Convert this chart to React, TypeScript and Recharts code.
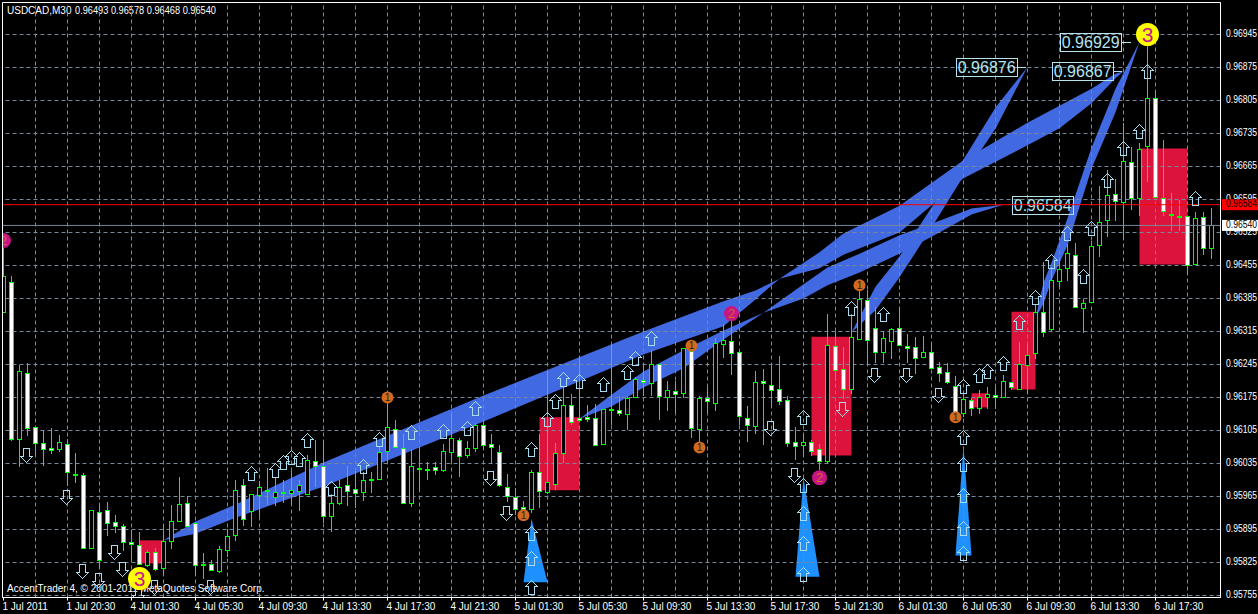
import {
  Area,
  Bar,
  ComposedChart,
  ReferenceArea,
  ReferenceLine,
  Scatter,
  XAxis,
  YAxis,
} from "recharts";

// all prices below are in points (1/100000)
const opens = [
  96356, 96420, 96087, 96227, 96112, 96079, 96067, 96065, 96076, 96012,
  96010, 95855, 95932, 95937, 95911, 95902, 95868, 95862, 95819, 95847,
  95813, 95870, 95914, 95951, 95909, 95822, 95822, 95806, 95851, 95884,
  95989, 95934, 95968, 95979, 95964, 95975, 95972, 95976, 95970, 96041,
  96029, 95924, 95951, 95989, 95981, 95974, 96002, 96002, 96061, 96108,
  96068, 95951, 96026, 96024, 96027, 96021, 96059, 96085, 96053, 96068,
  96116, 96077, 96060, 95985, 95964, 95942, 95939, 96017, 95974, 95992,
  96058, 96159, 96131, 96133, 96132, 96077, 96151, 96149, 96140, 96176,
  96212, 96206, 96246, 96176, 96188, 96185, 96273, 96108, 96174, 96164,
  96289, 96294, 96272, 96132, 96115, 96210, 96202, 96193, 96170, 96081,
  96075, 96081, 96065, 96041, 96284, 96236, 96193, 96299, 96382, 96322,
  96271, 96295, 96323, 96284, 96282, 96261, 96272, 96240, 96229, 96200,
  96142, 96170, 96152, 96176, 96181, 96176, 96208, 96192, 96244, 96270,
  96356, 96320, 96422, 96450, 96478, 96365, 96377, 96499, 96551, 96607,
  96589, 96675, 96598, 96708, 96810, 96599, 96565, 96560, 96560, 96459,
  96557, 96493,
];
const closes = [
  96432, 96087, 96232, 96111, 96079, 96066, 96064, 96081, 96017, 96011,
  95856, 95937, 95831, 95909, 95903, 95869, 95865, 95822, 95847, 95812,
  95870, 95913, 95949, 95903, 95820, 95820, 95809, 95854, 95882, 95979,
  95918, 95971, 95985, 95977, 95975, 95973, 95978, 95989, 96043, 96030,
  95923, 95951, 95985, 95977, 95973, 96000, 96001, 96059, 96112, 96070,
  95952, 96030, 96024, 96022, 96022, 96062, 96089, 96051, 96068, 96116,
  96074, 96070, 95989, 95966, 95939, 95938, 96017, 95977, 95995, 96058,
  96159, 96123, 96128, 96129, 96075, 96151, 96149, 96142, 96174, 96215,
  96208, 96246, 96178, 96191, 96183, 96280, 96111, 96175, 96168, 96291,
  96297, 96270, 96136, 96117, 96208, 96206, 96191, 96167, 96079, 96072,
  96081, 96062, 96041, 96287, 96234, 96193, 96303, 96384, 96296, 96272,
  96302, 96321, 96287, 96280, 96259, 96272, 96238, 96227, 96208, 96143,
  96172, 96152, 96176, 96183, 96176, 96210, 96198, 96246, 96265, 96356,
  96315, 96425, 96448, 96482, 96368, 96376, 96496, 96548, 96605, 96592,
  96677, 96598, 96702, 96810, 96600, 96570, 96562, 96557, 96456, 96556,
  96492, 96540,
];
const highs = [
  96508, 96432, 96244, 96248, 96113, 96106, 96111, 96096, 96087, 96058,
  96014, 95937, 95944, 95954, 95925, 95906, 95893, 95890, 95852, 95855,
  95907, 95946, 96007, 95966, 95910, 95845, 95831, 95861, 95896, 96001,
  96002, 95971, 95998, 96025, 96006, 95999, 96020, 95999, 96054, 96085,
  96084, 95971, 95999, 96029, 96020, 96017, 96018, 96073, 96183, 96128,
  96098, 96066, 96071, 96039, 96039, 96077, 96140, 96089, 96082, 96121,
  96123, 96098, 96075, 96013, 95983, 95956, 96022, 96097, 96232, 96079,
  96197, 96183, 96264, 96160, 96162, 96151, 96289, 96179, 96179, 96218,
  96246, 96275, 96246, 96211, 96211, 96280, 96285, 96178, 96197, 96302,
  96331, 96338, 96273, 96156, 96232, 96236, 96241, 96264, 96179, 96113,
  96098, 96085, 96077, 96352, 96313, 96283, 96352, 96413, 96402, 96367,
  96317, 96323, 96368, 96309, 96303, 96306, 96291, 96250, 96249, 96220,
  96186, 96174, 96191, 96197, 96198, 96222, 96208, 96292, 96289, 96374,
  96462, 96451, 96469, 96500, 96503, 96384, 96508, 96623, 96657, 96639,
  96757, 96707, 96715, 96922, 96826, 96722, 96608, 96593, 96560, 96568,
  96568, 96578,
];
const lows = [
  96356, 96082, 96027, 96093, 96050, 96029, 96055, 96059, 95988, 95993,
  95853, 95853, 95811, 95881, 95887, 95850, 95831, 95819, 95815, 95807,
  95799, 95854, 95913, 95902, 95797, 95790, 95808, 95802, 95836, 95870,
  95903, 95901, 95921, 95946, 95944, 95951, 95949, 95935, 95969, 95985,
  95908, 95889, 95946, 95944, 95940, 95955, 95972, 95999, 96041, 96068,
  95949, 95942, 95978, 95999, 96010, 96017, 96040, 96007, 96046, 96059,
  96066, 96034, 95985, 95953, 95925, 95921, 95930, 95940, 95971, 95978,
  96036, 96116, 96123, 96123, 96072, 96075, 96116, 96135, 96107, 96174,
  96179, 96179, 96128, 96147, 96142, 96174, 96089, 96077, 96142, 96147,
  96258, 96222, 96116, 96080, 96097, 96075, 96154, 96160, 96070, 96043,
  96052, 96050, 96022, 96034, 96211, 96172, 96183, 96296, 96243, 96249,
  96249, 96257, 96284, 96249, 96224, 96258, 96236, 96208, 96203, 96126,
  96133, 96135, 96139, 96151, 96151, 96174, 96191, 96190, 96183, 96256,
  96303, 96317, 96409, 96423, 96365, 96312, 96375, 96474, 96515, 96549,
  96510, 96572, 96561, 96632, 96600, 96561, 96529, 96529, 96434, 96459,
  96478, 96468,
];

const timeLabels = [
  "1 Jul 2011", "1 Jul 20:30", "4 Jul 01:30", "4 Jul 05:30", "4 Jul 09:30",
  "4 Jul 13:30", "4 Jul 17:30", "4 Jul 21:30", "5 Jul 01:30", "5 Jul 05:30",
  "5 Jul 09:30", "5 Jul 13:30", "5 Jul 17:30", "5 Jul 21:30", "6 Jul 01:30",
  "6 Jul 05:30", "6 Jul 09:30", "6 Jul 13:30", "6 Jul 17:30",
];
const priceLabels = [
  96945, 96875, 96805, 96735, 96665, 96595, 96525, 96455, 96385,
  96315, 96245, 96175, 96105, 96035, 95965, 95895, 95825, 95755,
];
const ASK = 96584;
const BID = 96540;

// [bar, lower edge, upper edge]
const bandLong = [
  [20, 95872, 95872], [24, 95886, 95912], [29, 95920, 95948], [40, 95986, 96037],
  [60, 96124, 96179], [80, 96266, 96315], [90, 96326, 96379], [94, 96383, 96402],
  [97, 96427, 96427],
];
const bandSecond = [
  [72, 96130, 96130], [76, 96156, 96181], [80, 96196, 96230], [85, 96237, 96275],
  [90, 96298, 96317], [95, 96355, 96355],
];
const bandToTop = [
  [97, 96427, 96427], [102, 96449, 96483], [105, 96478, 96523], [112, 96525, 96582],
  [120, 96640, 96678], [128, 96710, 96758], [132, 96746, 96794], [136, 96799, 96830],
  [139, 96852, 96862], [140, 96867, 96867],
];
const bandToLine = [
  [95, 96355, 96355], [100, 96385, 96415], [103, 96413, 96451], [107, 96440, 96480],
  [112, 96480, 96519], [117, 96525, 96550], [121, 96563, 96576], [125, 96584, 96584],
];
const bandSteep = [
  [106, 96313, 96313], [109, 96360, 96410], [112, 96430, 96474], [116, 96535, 96578],
  [120, 96645, 96680], [124, 96745, 96790], [128, 96876, 96876],
];
const bandLast = [
  [129, 96343, 96343], [130, 96374, 96419], [131, 96423, 96461], [133, 96498, 96555],
  [136, 96660, 96705], [139, 96780, 96830], [142, 96929, 96929],
];
const spikeOne = [[65, 95783, 95783], [66, 95783, 95918], [68, 95783, 95783]];
const spikeTwo = [[99, 95795, 95795], [100, 95795, 96005], [102, 95795, 95795]];
const spikeThree = [[119, 95840, 95840], [120, 95840, 96073], [121, 95840, 95840]];

// [from bar, to bar, low, high]
const boxes = [
  [17, 20, 95823, 95872],
  [67, 72, 95978, 96133],
  [101, 106, 96052, 96304],
  [121, 123, 96154, 96184],
  [126, 129, 96192, 96357],
  [142, 148, 96457, 96703],
];

// [bar, price]
const upArrows = [
  [31, 96014], [34, 96022], [35, 96039], [36, 96048], [37, 96044], [38, 96084],
  [41, 95982], [45, 96029], [47, 96088], [51, 96101], [55, 96103], [58, 96111],
  [59, 96152], [66, 96065], [68, 96130], [69, 96167], [70, 96215], [72, 96209],
  [75, 96203], [78, 96230], [79, 96258], [81, 96302], [106, 96364], [110, 96353],
  [100, 96133], [100, 95990], [100, 95929], [100, 95867], [100, 95800],
  [66, 95887], [66, 95834], [66, 95774],
  [120, 96092], [120, 96033], [120, 95969], [120, 95899], [120, 95846],
  [120, 96200], [122, 96222], [123, 96232], [125, 96249], [127, 96336],
  [129, 96389], [131, 96464], [133, 96525], [135, 96432], [136, 96534],
  [138, 96637], [140, 96705], [142, 96741], [143, 96867], [149, 96599],
];
const downArrows = [
  [3, 96054], [8, 95965], [10, 95806], [12, 95787], [14, 95848], [15, 95812],
  [17, 95759], [19, 95772], [26, 95772], [61, 96005], [63, 95929], [96, 96111],
  [99, 96010], [105, 96150], [109, 96222], [113, 96222], [117, 96181],
];

// [bar, price, wave number]
const waveMarks = [
  [48, 96175, 1], [65, 95925, 1], [86, 96285, 1], [87, 96069, 1], [107, 96413, 1], [119, 96133, 1],
  [0, 96508, 2], [91, 96353, 2], [102, 96005, 2],
  [17, 95791, 3], [143, 96945, 3],
];

const priceTags = [
  { bar: 122.9, points: 96876, text: "0.96876", lead: 9 },
  { bar: 134.9, points: 96867, text: "0.96867", lead: 9 },
  { bar: 135.9, points: 96929, text: "0.96929", lead: 10 },
  { bar: 129.9, points: 96584, text: "0.96584", lead: 0 },
];

const FONT = "'Liberation Sans', Arial, sans-serif";
const GRID = "#778899";
const GREEN = "#00ff00";
const ARROW = "#a8dcee";
const BAND = "#4169e1";
const SPIKE = "#1e90ff";
const CRIMSON = "#dc143c";

const price = (p: number) => p / 100000;

const bandSets: [string, number[][], string][] = [
  ["bandLong", bandLong, BAND],
  ["bandSecond", bandSecond, BAND],
  ["bandToTop", bandToTop, BAND],
  ["bandToLine", bandToLine, BAND],
  ["bandSteep", bandSteep, BAND],
  ["bandLast", bandLast, BAND],
  ["spikeOne", spikeOne, SPIKE],
  ["spikeTwo", spikeTwo, SPIKE],
  ["spikeThree", spikeThree, SPIKE],
];

const rows = opens.map((o, i) => {
  const row: any = {
    bar: i,
    open: price(o),
    close: price(closes[i]),
    high: price(highs[i]),
    low: price(lows[i]),
    range: [price(lows[i]), price(highs[i])],
  };
  bandSets.forEach(([key, points]) => {
    const hit = points.find((p) => p[0] === i);
    if (hit) row[key] = [price(hit[1]), price(hit[2])];
  });
  return row;
});

const Candle = (props: any) => {
  const { x, width, y, height, payload } = props;
  const cx = x + width / 2;
  const k = height / (payload.high - payload.low || 1);
  const up = payload.close > payload.open;
  const top = Math.round(y + (payload.high - Math.max(payload.open, payload.close)) * k) + 0.5;
  const bottom = Math.round(y + (payload.high - Math.min(payload.open, payload.close)) * k) + 0.5;
  return (
    <g shapeRendering="crispEdges">
      <line x1={cx} x2={cx} y1={y} y2={y + height} stroke={GREEN} />
      <rect x={cx - 2} y={top} width={4} height={bottom - top} fill={up ? "#000" : "#fff"} stroke={GREEN} />
    </g>
  );
};

const UpArrow = ({ cx, cy }: any) => (
  <path
    transform={`translate(${cx},${Math.round(cy) + 0.5})`}
    d="M0,-7 L6,-1 L3,-1 L3,7 L-3,7 L-3,-1 L-6,-1 Z"
    fill="none"
    stroke={ARROW}
    shapeRendering="crispEdges"
  />
);

const DownArrow = ({ cx, cy }: any) => (
  <path
    transform={`translate(${cx - 1},${Math.round(cy) + 0.5})`}
    d="M0,7 L6,1 L3,1 L3,-7 L-3,-7 L-3,1 L-6,1 Z"
    fill="none"
    stroke={ARROW}
    shapeRendering="crispEdges"
  />
);

const WaveMark = ({ cx, cy, payload }: any) => {
  const wave = payload.wave;
  const r = wave === 3 ? 11.5 : wave === 2 ? 7.5 : 6;
  const fill = wave === 3 ? "#ffff00" : wave === 2 ? "#c71585" : "#d2691e";
  const ink = wave === 3 ? "#c71585" : wave === 2 ? "#d2691e" : "#222";
  return (
    <g clipPath="url(#plotClip)">
      <circle cx={cx} cy={cy} r={r} fill={fill} />
      <text
        x={cx}
        y={cy}
        dy="0.36em"
        textAnchor="middle"
        fontFamily={FONT}
        fontSize={wave === 3 ? 21 : wave === 2 ? 13 : 10}
        fill={ink}
      >
        {wave}
      </text>
    </g>
  );
};

const PriceTag = ({ cx, cy, payload }: any) => (
  <g>
    <rect x={cx - 30.5} y={Math.round(cy) - 8.5} width={61} height={18} fill="none" stroke="#b5e3ee" shapeRendering="crispEdges" />
    {payload.lead > 0 && (
      <line x1={cx + 30.5} x2={cx + 30.5 + payload.lead} y1={Math.round(cy) + 0.5} y2={Math.round(cy) + 0.5} stroke="#b5e3ee" shapeRendering="crispEdges" />
    )}
    <text x={cx} y={cy} dy="0.38em" textAnchor="middle" fontFamily={FONT} fontSize={16} fill="#b5e3ee">
      {payload.text}
    </text>
  </g>
);

const PriceTick = ({ y, payload }: any) => {
  const left = 1222;
  const points = Math.round(payload.value * 100000);
  const tagged = points === ASK || points === BID;
  return (
    <g>
      {tagged && (
        <rect x={left} y={y - 5.5} width={36} height={11} fill={points === ASK ? "#ff0000" : "#ffffff"} />
      )}
      <text
        x={left + 4}
        y={y - 1}
        dy="0.36em"
        fontFamily={FONT}
        fontSize={10.5}
        textLength={31}
        lengthAdjust="spacingAndGlyphs"
        fill={tagged ? "#000" : "#fff"}
      >
        {payload.value.toFixed(5)}
      </text>
    </g>
  );
};

const TimeTick = ({ x, y, payload }: any) => (
  <text x={x - 1} y={y + 4} dy="0.36em" fontFamily={FONT} fontSize={10} fill="#fff">
    {timeLabels[payload.value / 8]}
  </text>
);

const timeTicks = timeLabels.map((_, i) => i * 8);
const gridBars = Array.from({ length: 37 }, (_, i) => (i + 1) * 4);
const arrowUpData = upArrows.map(([bar, p]) => ({ bar, y: price(p) }));
const arrowDownData = downArrows.map(([bar, p]) => ({ bar, y: price(p) }));
const waveData = waveMarks.map(([bar, p, wave]) => ({ bar, y: price(p), wave }));
const tagData = priceTags.map((t) => ({ ...t, y: price(t.points) }));

export default function App() {
  return (
    <div style={{ position: "absolute", left: 0, top: 0, width: 1258, height: 614, background: "#000", overflow: "hidden" }}>
      <ComposedChart
        width={1258}
        height={614}
        data={rows}
        margin={{ top: 2.5, right: 0, bottom: 0, left: 2.5 }}
      >
        <defs>
          <clipPath id="plotClip">
            <rect x={3} y={3} width={1217} height={594} />
          </clipPath>
        </defs>
        <XAxis
          dataKey="bar"
          type="number"
          domain={[-0.125, 152.125]}
          allowDataOverflow
          ticks={timeTicks}
          interval={0}
          height={16.5}
          stroke="#fff"
          tickSize={3}
          tick={<TimeTick />}
        />
        <YAxis
          orientation="right"
          type="number"
          domain={[0.9575076, 0.9701288]}
          allowDataOverflow
          ticks={[...priceLabels, ASK, BID].map(price)}
          interval={0}
          width={37.5}
          stroke="#fff"
          tickLine={false}
          tick={<PriceTick />}
        />
        {boxes.map(([a, b, lo, hi]) => (
          <ReferenceArea
            key={a}
            x1={a}
            x2={b}
            y1={price(lo)}
            y2={price(hi)}
            fill={CRIMSON}
            fillOpacity={1}
            stroke="none"
            zIndex={90}
          />
        ))}
        {bandSets.map(([key, , color]) => (
          <Area
            key={key}
            dataKey={key}
            type="linear"
            connectNulls
            stroke="none"
            fill={color}
            fillOpacity={1}
            dot={false}
            activeDot={false}
            isAnimationActive={false}
            zIndex={100}
          />
        ))}
        {priceLabels.map((p) => (
          <ReferenceLine key={p} y={price(p)} stroke={GRID} strokeDasharray="4 3" zIndex={150} />
        ))}
        {gridBars.map((b) => (
          <ReferenceLine key={b} x={b} stroke={GRID} strokeDasharray="4 3" zIndex={150} />
        ))}
        <Bar dataKey="range" barSize={5} shape={<Candle />} isAnimationActive={false} zIndex={300} />
        <Scatter data={tagData} dataKey="y" shape={<PriceTag />} isAnimationActive={false} zIndex={350} />
        <ReferenceLine y={price(BID)} stroke={GRID} zIndex={400} />
        <ReferenceLine y={price(ASK)} stroke="#ff0000" zIndex={400} />
        <Scatter data={arrowUpData} dataKey="y" shape={<UpArrow />} isAnimationActive={false} zIndex={600} />
        <Scatter data={arrowDownData} dataKey="y" shape={<DownArrow />} isAnimationActive={false} zIndex={600} />
        <Scatter data={waveData} dataKey="y" shape={<WaveMark />} isAnimationActive={false} zIndex={600} />
        <ReferenceArea
          x1={-0.125}
          x2={152.125}
          y1={0.9575076}
          y2={0.9701288}
          fill="none"
          stroke="#fff"
          ifOverflow="visible"
          zIndex={700}
        />
        <text x={7} y={10} dy="0.36em" fontFamily={FONT} fontSize={10} fill="#fff">
          USDCAD,M30
        </text>
        <text x={75} y={10} dy="0.36em" fontFamily={FONT} fontSize={10} textLength={141} lengthAdjust="spacingAndGlyphs" fill="#fff">
          0.96493 0.96578 0.96468 0.96540
        </text>
        <text x={7} y={588} dy="0.36em" fontFamily={FONT} fontSize={10} fill="#fff">
          AccentTrader 4, © 2001-2011 MetaQuotes Software Corp.
        </text>
      </ComposedChart>
    </div>
  );
}
